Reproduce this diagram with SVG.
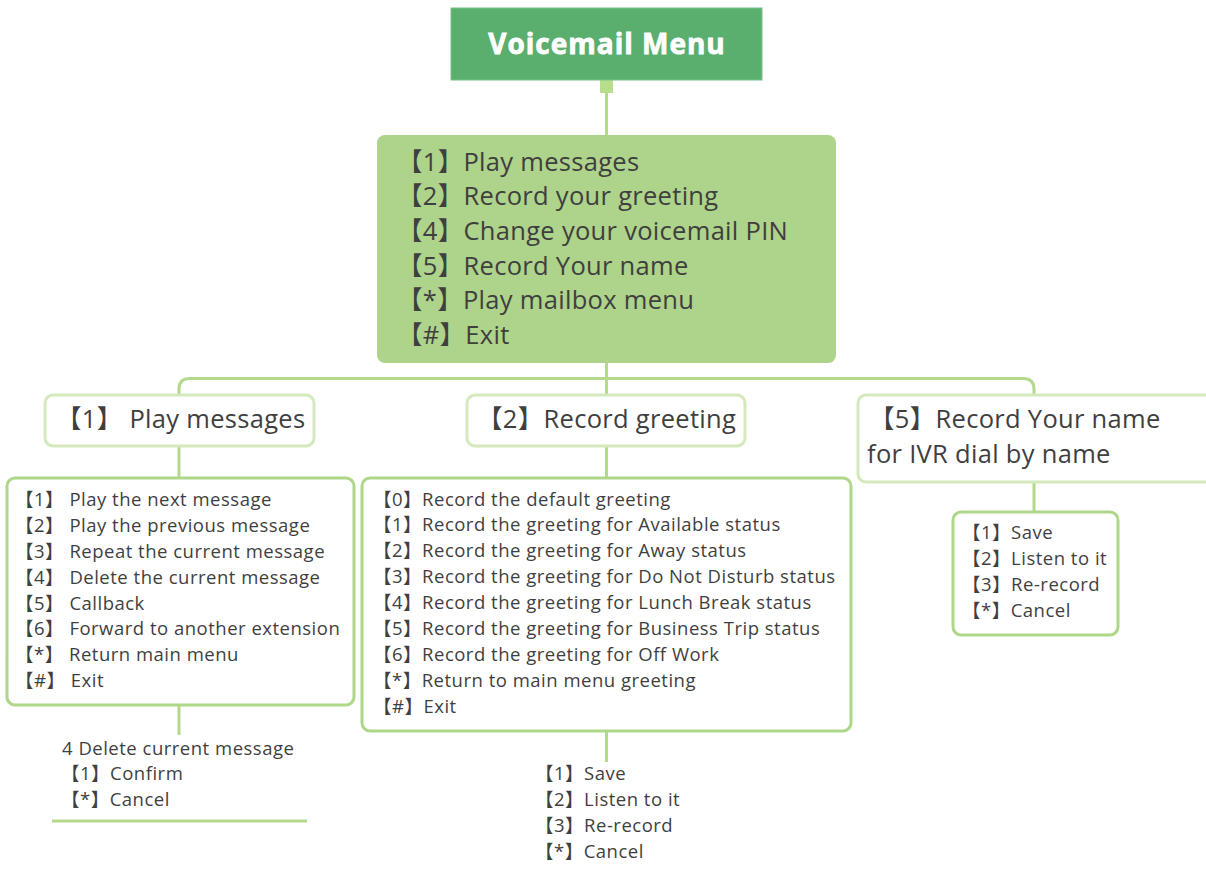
<svg xmlns="http://www.w3.org/2000/svg" width="1206" height="869" viewBox="0 0 1206 869">
<style>
.t{font-family:"Open Sans","Noto Sans CJK SC",sans-serif;fill:#3f3f3f}
.big{font-size:25.5px;letter-spacing:0.3px}
.mid{font-size:18.5px;letter-spacing:0.5px}
.conn{fill:none;stroke:#b3da8b;stroke-width:3}
.l2{fill:#fff;stroke:#d4eabd;stroke-width:3}
.l3{fill:#fff;stroke:#aed78a;stroke-width:3}
</style>
<rect width="1206" height="869" fill="#fff"/>
<g id="connectors">
<rect x="600" y="80" width="13" height="13" fill="#b8de8d"/>
<path class="conn" d="M606.5,93V135M606.5,363V395M179,395V389Q179,378.5 190,378.5H1023Q1034,378.5 1034,389V395M179,446V478M606.5,446V478M1034,482V512M179,705V735M606.5,731V762M52,821H307"/>
</g>
<g id="title">
<rect x="451" y="8" width="311" height="72" fill="#5aae6e" stroke="#7cc28c" stroke-width="1"/>
<text x="607" y="54" text-anchor="middle" font-family="'Open Sans',sans-serif" font-weight="700" font-size="28" letter-spacing="1" fill="#fff" stroke="#fff" stroke-width="0.8">Voicemail Menu</text>
</g>
<g id="main">
<rect x="377" y="135" width="459" height="228" rx="8" fill="#aed38a"/>
<text class="t big"><tspan x="397" y="171">【1】Play messages</tspan><tspan x="397" y="205">【2】Record your greeting</tspan><tspan x="397" y="240">【4】Change your voicemail PIN</tspan><tspan x="397" y="275">【5】Record Your name</tspan><tspan x="397" y="309">【*】Play mailbox menu</tspan><tspan x="397" y="344">【#】Exit</tspan></text>
</g>
<g id="play">
<rect class="l2" x="45" y="395" width="269" height="51" rx="8"/>
<text class="t big" x="56" y="428">【1】 Play messages</text>
</g>
<g id="record-greeting">
<rect class="l2" x="467" y="395" width="278" height="51" rx="8"/>
<text class="t big" x="477" y="428">【2】Record greeting</text>
</g>
<g id="record-name">
<rect class="l2" x="858" y="395" width="360" height="87" rx="8"/>
<text class="t big"><tspan x="869" y="428">【5】Record Your name</tspan><tspan x="867" y="463">for IVR dial by name</tspan></text>
</g>
<g id="play-options">
<rect class="l3" x="7" y="478" width="347" height="227" rx="8"/>
<text class="t mid"><tspan x="15" y="506">【1】 Play the next message</tspan><tspan x="15" y="532">【2】 Play the previous message</tspan><tspan x="15" y="558">【3】 Repeat the current message</tspan><tspan x="15" y="584">【4】 Delete the current message</tspan><tspan x="15" y="610">【5】 Callback</tspan><tspan x="15" y="635">【6】 Forward to another extension</tspan><tspan x="15" y="661">【*】 Return main menu</tspan><tspan x="15" y="687">【#】 Exit</tspan></text>
</g>
<g id="greeting-options">
<rect class="l3" x="362" y="478" width="489" height="253" rx="8"/>
<text class="t mid"><tspan x="373" y="506">【0】Record the default greeting</tspan><tspan x="373" y="531">【1】Record the greeting for Available status</tspan><tspan x="373" y="557">【2】Record the greeting for Away status</tspan><tspan x="373" y="583">【3】Record the greeting for Do Not Disturb status</tspan><tspan x="373" y="609">【4】Record the greeting for Lunch Break status</tspan><tspan x="373" y="635">【5】Record the greeting for Business Trip status</tspan><tspan x="373" y="661">【6】Record the greeting for Off Work</tspan><tspan x="373" y="687">【*】Return to main menu greeting</tspan><tspan x="373" y="713">【#】Exit</tspan></text>
</g>
<g id="name-options">
<rect class="l3" x="953" y="512" width="165" height="123" rx="8"/>
<text class="t mid"><tspan x="962" y="539">【1】Save</tspan><tspan x="962" y="565">【2】Listen to it</tspan><tspan x="962" y="591">【3】Re-record</tspan><tspan x="962" y="617">【*】Cancel</tspan></text>
</g>
<g id="delete-options">
<text class="t mid"><tspan x="62" y="755">4 Delete current message</tspan><tspan x="61" y="780">【1】Confirm</tspan><tspan x="61" y="806">【*】Cancel</tspan></text>
</g>
<g id="save-options">
<text class="t mid"><tspan x="535" y="780">【1】Save</tspan><tspan x="535" y="806">【2】Listen to it</tspan><tspan x="535" y="832">【3】Re-record</tspan><tspan x="535" y="858">【*】Cancel</tspan></text>
</g>
</svg>
